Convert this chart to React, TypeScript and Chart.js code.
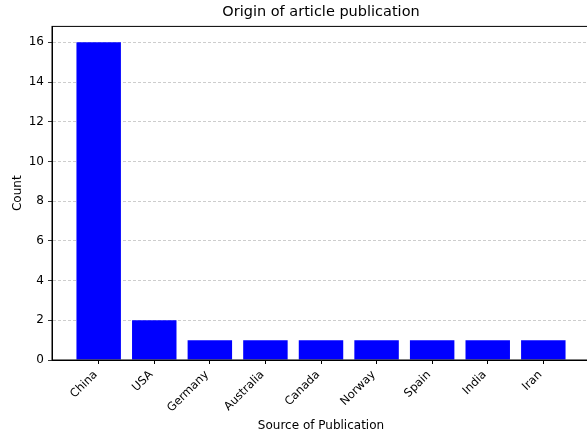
import React, { useEffect, useRef } from "react";
import { Chart, registerables } from "chart.js";

Chart.register(...registerables);

const categories = ["China", "USA", "Germany", "Australia", "Canada", "Norway", "Spain", "India", "Iran"];
const counts = [16, 2, 1, 1, 1, 1, 1, 1, 1];
const yTicks = [0, 2, 4, 6, 8, 10, 12, 14, 16];

const FONT = "'DejaVu Sans', sans-serif";

const framePlugin = {
  id: "frame",
  afterDraw(chart: any) {
    const { ctx, chartArea } = chart;
    ctx.save();
    ctx.strokeStyle = "#000";
    ctx.lineWidth = 1;
    ctx.strokeRect(chartArea.left, chartArea.top, chartArea.right - chartArea.left, chartArea.bottom - chartArea.top);
    ctx.restore();
  },
};

export default function App() {
  const ref = useRef<HTMLCanvasElement | null>(null);

  useEffect(() => {
    if (!ref.current) return;
    const chart = new Chart(ref.current, {
      type: "bar",
      data: {
        datasets: [
          {
            label: "Count",
            data: categories.map((_, i) => ({ x: i, y: counts[i] })),
            backgroundColor: "#0000ff",
            borderWidth: 0,
            categoryPercentage: 1,
            barPercentage: 0.8,
          },
        ],
      },
      options: {
        animation: false,
        responsive: true,
        maintainAspectRatio: false,
        layout: { padding: 0 },
        plugins: {
          legend: { display: false },
          tooltip: { enabled: false },
          title: {
            display: true,
            text: "Origin of article publication",
            color: "#000",
            font: { family: FONT, size: 14.5, weight: "normal" },
            padding: { top: 4, bottom: 5 },
          },
        },
        scales: {
          x: {
            type: "linear",
            min: -0.84,
            max: 8.84,
            offset: false,
            afterBuildTicks: (scale: any) => {
              scale.ticks = categories.map((_, i) => ({ value: i }));
            },
            afterFit: (scale: any) => {
              scale.height = 74;
            },
            grid: {
              offset: false,
              drawOnChartArea: false,
              drawTicks: true,
              tickLength: 4,
              tickColor: "#000",
            },
            border: { display: true, color: "#000", width: 1 },
            ticks: {
              autoSkip: false,
              minRotation: 45,
              maxRotation: 45,
              padding: 4,
              labelOffset: -3,
              color: "#000",
              font: { family: FONT, size: 11.5 },
              callback: (v: any) => categories[Number(v)] ?? "",
            },
            title: {
              display: true,
              text: "Source of Publication",
              color: "#000",
              font: { family: FONT, size: 12 },
              padding: { top: 0, bottom: 1 },
            },
          },
          y: {
            type: "linear",
            min: 0,
            max: 16.8,
            z: 1,
            afterBuildTicks: (scale: any) => {
              scale.ticks = yTicks.map((v) => ({ value: v }));
            },
            afterFit: (scale: any) => {
              scale.width = 52;
            },
            grid: {
              drawOnChartArea: true,
              drawTicks: true,
              tickLength: 4,
              tickColor: "#000",
              lineWidth: 0.8,
              color: (ctx: any) => (ctx.tick && ctx.tick.value === 0 ? "rgba(0,0,0,0)" : "rgba(150,150,150,0.6)"),
            },
            border: { display: true, color: "#000", width: 1, dash: [3, 2] },
            ticks: {
              padding: 4,
              color: "#000",
              font: { family: FONT, size: 12 },
            },
            title: {
              display: true,
              text: "Count",
              color: "#000",
              font: { family: FONT, size: 12 },
              padding: { top: 11, bottom: 0 },
            },
          },
          yRight: {
            type: "linear",
            position: "right",
            min: 0,
            max: 16.8,
            afterFit: (scale: any) => {
              scale.width = 52;
            },
            grid: { drawOnChartArea: false, drawTicks: false },
            border: { display: false },
            ticks: { display: false },
          },
        },
      } as any,
      plugins: [framePlugin],
    });
    return () => chart.destroy();
  }, []);

  return (
    <div style={{ position: "absolute", left: 0, top: 0, width: 587, height: 434, overflow: "hidden", background: "#fff" }}>
      <div style={{ position: "relative", width: 642, height: 434 }}>
        <canvas ref={ref} />
      </div>
    </div>
  );
}
